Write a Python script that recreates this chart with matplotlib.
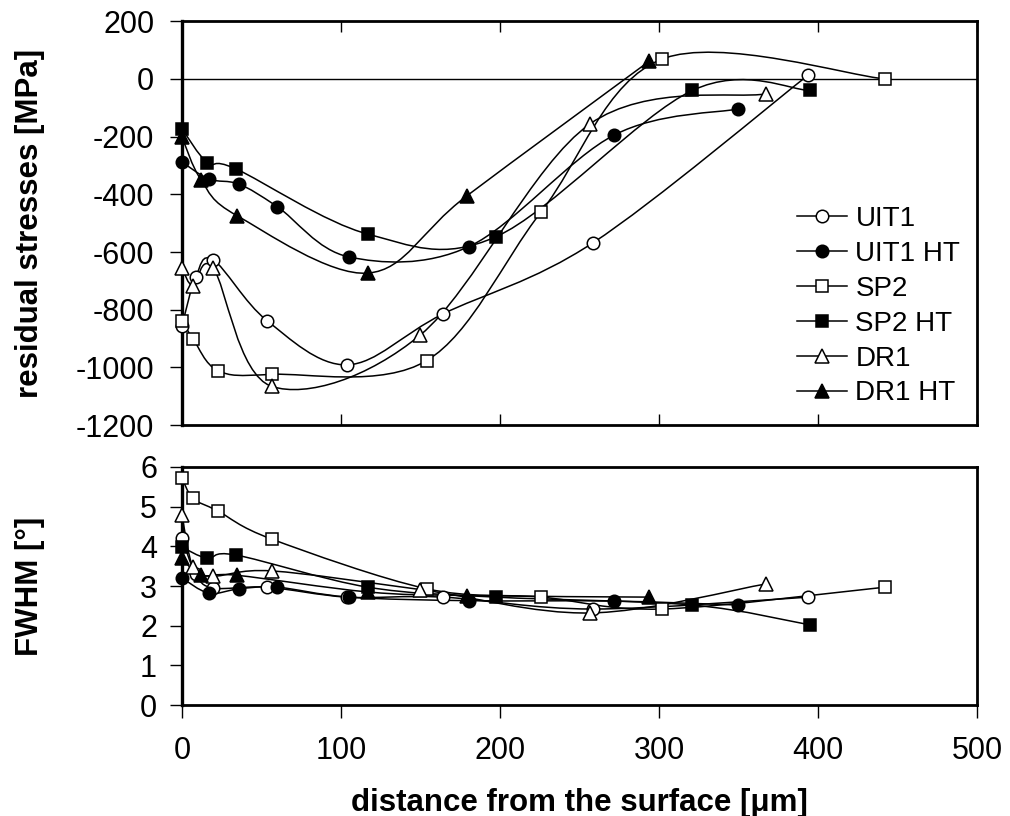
import matplotlib
matplotlib.use("Agg")
import matplotlib.pyplot as plt
import numpy as np
from matplotlib.lines import Line2D
from matplotlib.patches import PathPatch
from matplotlib.path import Path

plt.rcParams["font.family"] = ["Liberation Sans", "DejaVu Sans"]
plt.rcParams["axes.unicode_minus"] = False

# residual stress profiles (depth in um, stress in MPa)
uit1_x = [0, 8.7, 19.6, 53.5, 104, 164, 258.5, 394]
uit1_s = [-855, -686, -627, -838, -991, -815, -568, 14]
uit1ht_x = [0, 17, 36, 60, 105, 180.5, 272, 350]
uit1ht_s = [-288, -347, -365, -443, -617, -581, -194, -104]
sp2_x = [0, 7, 22.6, 56.6, 154, 226, 302, 442]
sp2_s = [-838, -901, -1011, -1024, -976, -460, 69, 0]
sp2ht_x = [0, 16, 34, 117, 197.5, 321, 395]
sp2ht_s = [-173, -290, -312, -538, -547, -40, -40]
dr1_x = [0, 7, 19.6, 56.6, 150, 256.6, 367]
dr1_s = [-656, -717, -656, -1066, -887, -156, -52]
dr1ht_x = [0, 12, 34.6, 117, 179, 294]
dr1ht_s = [-202, -350, -474, -673, -406, 62]

# FWHM profiles (deg), same depths
uit1_w = [4.2, 3.3, 2.95, 2.97, 2.72, 2.72, 2.42, 2.72]
uit1ht_w = [3.2, 2.82, 2.93, 2.97, 2.72, 2.63, 2.62, 2.52]
sp2_w = [5.72, 5.21, 4.89, 4.18, 2.93, 2.72, 2.42, 2.97]
sp2ht_w = [3.98, 3.70, 3.78, 2.97, 2.72, 2.52, 2.02]
dr1_w = [4.78, 3.47, 3.25, 3.38, 2.91, 2.32, 3.05]
dr1ht_w = [3.7, 3.27, 3.27, 2.85, 2.76, 2.72]

names = ["UIT1", "UIT1 HT", "SP2", "SP2 HT", "DR1", "DR1 HT"]
markers = ["o", "o", "s", "s", "^", "^"]
fills = ["white", "black", "white", "black", "white", "black"]
xs = [uit1_x, uit1ht_x, sp2_x, sp2ht_x, dr1_x, dr1ht_x]
stress = [uit1_s, uit1ht_s, sp2_s, sp2ht_s, dr1_s, dr1ht_s]
fwhm = [uit1_w, uit1ht_w, sp2_w, sp2ht_w, dr1_w, dr1ht_w]


def smooth_path(x, y):
    # excel-style smoothed line: catmull-rom segments as cubic beziers
    pts = np.column_stack([x, y]).astype(float)
    n = len(pts)
    verts = [pts[0]]
    codes = [Path.MOVETO]
    for i in range(n - 1):
        p0 = pts[i - 1] if i > 0 else pts[i]
        p1, p2 = pts[i], pts[i + 1]
        p3 = pts[i + 2] if i + 2 < n else pts[i + 1]
        verts += [p1 + (p2 - p0) / 6, p2 - (p3 - p1) / 6, p2]
        codes += [Path.CURVE4] * 3
    return Path(verts, codes)


def msize(m):
    return 9.5 if m == "^" else 9.0


def draw_series(ax, x, y, marker, fc):
    ax.add_patch(PathPatch(smooth_path(x, y), fill=False, edgecolor="black",
                           linewidth=1.1, zorder=2))
    ax.plot(x, y, ls="none", marker=marker, ms=msize(marker), mfc=fc,
            mec="black", mew=1.1, zorder=5, clip_on=False)


fig = plt.figure(figsize=(10.10, 8.16), dpi=100)
ax1 = fig.add_axes([0.1802, 0.479, 0.7871, 0.495])
ax2 = fig.add_axes([0.1802, 0.136, 0.7871, 0.2917])

for i in range(len(names)):
    draw_series(ax1, xs[i], stress[i], markers[i], fills[i])
    draw_series(ax2, xs[i], fwhm[i], markers[i], fills[i])

ax1.axhline(0, color="black", linewidth=1.0, zorder=1)
ax1.set_xlim(0, 500)
ax1.set_ylim(-1200, 200)
ax1.set_yticks(np.arange(-1200, 201, 200))
ax1.set_xticks(np.arange(0, 501, 100))
ax1.tick_params(axis="x", direction="in", top=True, bottom=True,
                labelbottom=False, length=8, width=1.0)
ax1.tick_params(axis="y", direction="out", length=9, width=1.0, pad=11,
                labelsize=22)

ax2.set_xlim(0, 500)
ax2.set_ylim(0, 6)
ax2.set_yticks(np.arange(0, 7, 1))
ax2.set_xticks(np.arange(0, 501, 100))
ax2.tick_params(axis="x", direction="out", length=9, width=1.0, pad=13,
                labelsize=22)
ax2.tick_params(axis="y", direction="out", length=9, width=1.0, pad=9,
                labelsize=22)

for ax in (ax1, ax2):
    for sp in ax.spines.values():
        sp.set_linewidth(2.0)
    ax.spines["left"].set_linewidth(2.4)

handles = [Line2D([], [], color="black", lw=1.1, marker=m, ms=msize(m),
                  mfc=f, mec="black", mew=1.1)
           for m, f in zip(markers, fills)]
ax1.legend(handles, names, loc="lower right", bbox_to_anchor=(1.0, 0.005),
           frameon=False, fontsize=20, handlelength=1.8, handletextpad=0.3,
           labelspacing=0.32, borderaxespad=0.2)

fig.text(0.030, 0.726, "residual stresses [MPa]", rotation=90, ha="center",
         va="center", fontsize=22.5, fontweight="bold")
fig.text(0.030, 0.282, "FWHM [°]", rotation=90, ha="center", va="center",
         fontsize=22.5, fontweight="bold")
fig.text(0.574, 0.016, "distance from the surface [μm]", ha="center",
         va="center", fontsize=22.5, fontweight="bold")

fig.savefig("out.png", dpi=100)
